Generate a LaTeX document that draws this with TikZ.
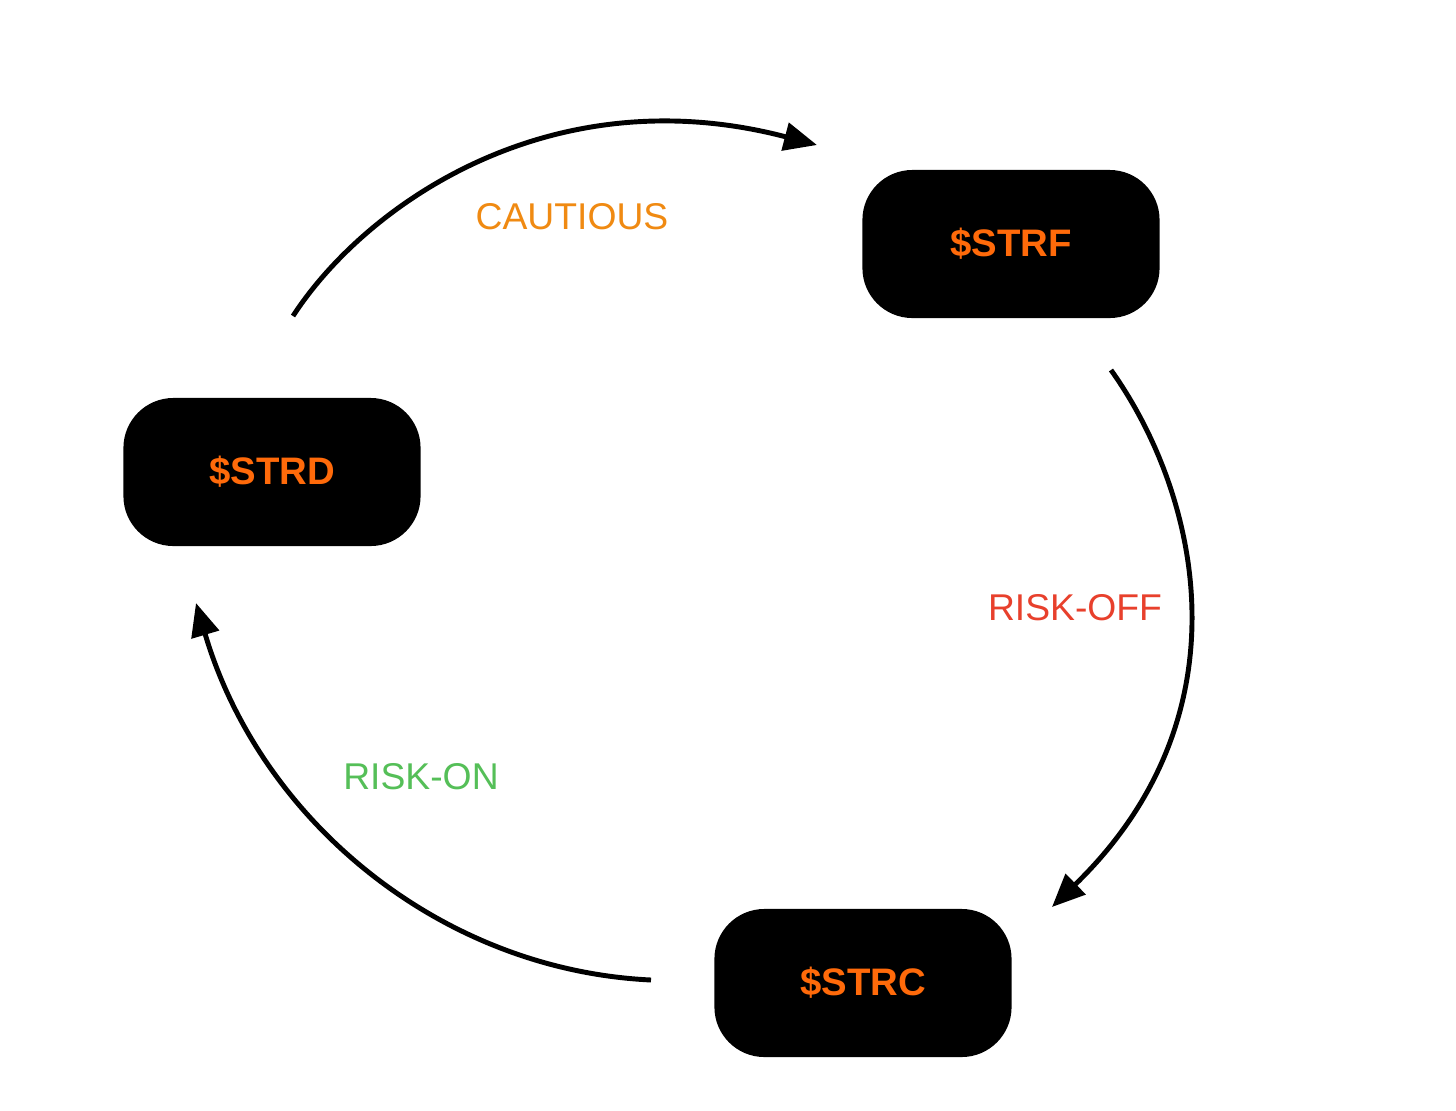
\documentclass[tikz,border=0pt]{standalone}
\usepackage{fontspec}
\setmainfont{Liberation Sans}
\usetikzlibrary{arrows.meta}
\definecolor{boxorange}{HTML}{FF6A0A}
\definecolor{cautorange}{HTML}{F08A12}
\definecolor{offred}{HTML}{E8402C}
\definecolor{ongreen}{HTML}{55BF58}
\tikzset{
  x=0.01cm, y=-0.01cm,
  state/.style={fill=black, rounded corners=0.5cm, minimum width=2.97cm, minimum height=1.48cm,
    text=boxorange, font=\fontsize{10.9}{13}\selectfont\bfseries, inner sep=0pt},
  flow/.style={line width=1.4pt, -{Triangle[length=0.33cm, width=0.28cm]}},
  lbl/.style={font=\fontsize{10.6}{12}\selectfont, inner sep=0pt}
}
\begin{document}
\begin{tikzpicture}
\useasboundingbox[fill=white] (0,0) rectangle (1456,1111);
\node[state] (strf) at (1011,244) {\$STRF};
\node[state] (strd) at (272,472) {\$STRD};
\node[state] (strc) at (863,983) {\$STRC};
\coordinate (c1) at (293,316);
\coordinate (c2) at (817,145);
\coordinate (o1) at (1111,370);
\coordinate (o2) at (1052,907);
\coordinate (n1) at (651,980);
\coordinate (n2) at (196,603);
\draw[flow] (c1) .. controls (365,205) and (550,75) .. (c2);
\draw[flow] (o1) .. controls (1200,495) and (1250,715) .. (o2);
\draw[flow] (n1) .. controls (440,970) and (260,820) .. (n2);
\node[lbl, text=cautorange] (lc) at (572,217) {CAUTIOUS};
\node[lbl, text=offred] (lo) at (1075,608) {RISK-OFF};
\node[lbl, text=ongreen] (ln) at (421,777) {RISK-ON};
\end{tikzpicture}
\end{document}
